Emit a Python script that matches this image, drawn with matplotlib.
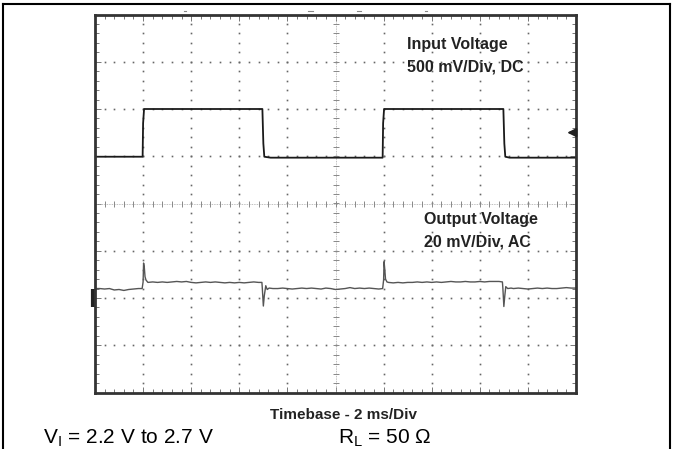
import numpy as np
import matplotlib
matplotlib.use("Agg")
import matplotlib.pyplot as plt
from matplotlib.ticker import MultipleLocator
from matplotlib.lines import Line2D

plt.rcParams['font.family'] = ['Liberation Sans', 'DejaVu Sans']
plt.rcParams['mathtext.default'] = 'regular'

# 输入电压 (时间: 格, 电平: 距中心的格数)
t_in = [0, 0.99, 1.0, 1.02, 3.48, 3.50, 3.52, 3.65, 5.98, 5.99, 6.01, 8.49, 8.51, 8.53, 8.62, 10]
v_in = [0.99, 0.99, 1.70, 2.0, 2.0, 1.27, 0.99, 0.97, 0.97, 1.70, 2.0, 2.0, 1.27, 0.99, 0.97, 0.97]

# 输出电压 (AC 耦合)
t_out = [0, 0.1, 0.2, 0.3, 0.4, 0.5, 0.6, 0.7, 0.8, 0.9, 0.98,
         1.0, 1.01, 1.025, 1.04, 1.06, 1.1,
         1.2, 1.3, 1.4, 1.5, 1.6, 1.7, 1.8, 1.9, 2.0, 2.1, 2.2, 2.3, 2.4, 2.5,
         2.6, 2.7, 2.8, 2.9, 3.0, 3.1, 3.2, 3.3, 3.4, 3.47,
         3.48, 3.50, 3.52, 3.55, 3.58, 3.62, 3.7,
         3.8, 3.9, 4.0, 4.1, 4.2, 4.3, 4.4, 4.5, 4.6, 4.7, 4.8, 4.9, 5.0, 5.1,
         5.2, 5.3, 5.4, 5.5, 5.6, 5.7, 5.8, 5.9, 5.98,
         6.0, 6.01, 6.025, 6.04, 6.07, 6.1,
         6.2, 6.3, 6.4, 6.5, 6.6, 6.7, 6.8, 6.9, 7.0, 7.1, 7.2, 7.3, 7.4, 7.5,
         7.6, 7.7, 7.8, 7.9, 8.0, 8.1, 8.2, 8.3, 8.4, 8.47,
         8.48, 8.50, 8.52, 8.54, 8.58, 8.65,
         8.7, 8.8, 8.9, 9.0, 9.1, 9.2, 9.3, 9.4, 9.5, 9.6, 9.7, 9.8, 9.9, 10.0]
v_out = [-1.80, -1.80, -1.81, -1.80, -1.83, -1.82, -1.84, -1.82, -1.81, -1.80, -1.80,
         -1.66, -1.26, -1.35, -1.55, -1.62, -1.67,
         -1.66, -1.67, -1.66, -1.67, -1.66, -1.65, -1.66, -1.65, -1.67, -1.68, -1.67, -1.66, -1.67, -1.66,
         -1.67, -1.68, -1.67, -1.68, -1.67, -1.68, -1.67, -1.66, -1.67, -1.67,
         -1.82, -2.17, -1.95, -1.74, -1.82, -1.79, -1.80,
         -1.80, -1.79, -1.80, -1.81, -1.80, -1.79, -1.80, -1.79, -1.80, -1.81, -1.79, -1.80, -1.82, -1.81,
         -1.80, -1.78, -1.80, -1.79, -1.80, -1.79, -1.80, -1.81, -1.80,
         -1.62, -1.23, -1.40, -1.60, -1.66, -1.67,
         -1.68, -1.67, -1.68, -1.67, -1.67, -1.66, -1.67, -1.66, -1.67, -1.66, -1.67, -1.66, -1.65, -1.66,
         -1.66, -1.65, -1.66, -1.66, -1.65, -1.66, -1.65, -1.65, -1.65, -1.66,
         -1.80, -2.18, -1.95, -1.76, -1.80, -1.79,
         -1.80, -1.79, -1.80, -1.81, -1.80, -1.79, -1.80, -1.79, -1.80, -1.80, -1.79, -1.78, -1.79, -1.79]

fig = plt.figure(figsize=(6.73, 4.49), dpi=100)
ax = fig.add_axes([95 / 673, 1 - 392.5 / 449, 481 / 673, 378 / 449])
ax.set_xlim(0, 10)
ax.set_ylim(-4, 4)

# 网格点
steps_y = np.arange(-4, 4.001, 0.2)
steps_x = np.arange(0, 10.001, 0.2)
for gx in range(1, 10):
    if gx == 5:
        continue
    ax.plot([gx] * len(steps_y), steps_y, ls='none', marker='s', ms=1.2, mew=0, color='#666666')
for gy in range(-3, 4):
    if gy == 0:
        continue
    ax.plot(steps_x, [gy] * len(steps_x), ls='none', marker='s', ms=1.2, mew=0, color='#666666')

# 中心十字线
ax.axvline(5, color='#aaaaaa', lw=0.6, ls=(0, (1, 1)))
ax.axhline(0, color='#aaaaaa', lw=0.6, ls=(0, (1, 1)))
ax.plot([5] * len(steps_y), steps_y, ls='none', marker='_', ms=5, mew=0.7, color='#888888')
ax.plot(steps_x, [0] * len(steps_x), ls='none', marker='|', ms=5, mew=0.7, color='#888888')

# 边框刻度
ax.xaxis.set_major_locator(MultipleLocator(1))
ax.yaxis.set_major_locator(MultipleLocator(1))
ax.xaxis.set_minor_locator(MultipleLocator(0.2))
ax.yaxis.set_minor_locator(MultipleLocator(0.2))
ax.tick_params(which='both', direction='in', top=True, right=True,
               labelbottom=False, labelleft=False, color='#777777', width=0.7)
ax.tick_params(which='major', length=4)
ax.tick_params(which='minor', length=3)
for s in ax.spines.values():
    s.set_linewidth(2)
    s.set_color('#333333')

# 波形
ax.plot(t_in, v_in, color='#1a1a1a', lw=1.3)
ax.plot(t_out, v_out, color='#555555', lw=1.0)

# 通道标记
ax.plot([-0.05], [-2.0], marker='|', ms=13, mew=3, color='#222222', clip_on=False)
ax.annotate('', xy=(9.76, 1.5), xytext=(10.0, 1.5),
            arrowprops=dict(arrowstyle='-|>', color='#222222', lw=1.3, mutation_scale=13))

# 文字
W, H = 673, 449
bold = dict(fontsize=11.5, fontweight='bold', color='#222222', va='center')
fig.text(407 / W, 1 - 45 / H, 'Input Voltage', **bold)
fig.text(407 / W, 1 - 67 / H, '500 mV/Div, DC', **bold)
fig.text(424 / W, 1 - 220 / H, 'Output Voltage', **bold)
fig.text(424 / W, 1 - 242 / H, '20 mV/Div, AC', **bold)
fig.text(343 / W, 1 - 415 / H, 'Timebase - 2 ms/Div', fontsize=11, fontweight='bold', color='#222222',
         ha='center', va='center')
fig.text(43 / W, 1 - 438 / H, r'V$_{I}$ = 2.2 V to 2.7 V', fontsize=15, color='black', va='center')
fig.text(338 / W, 1 - 438 / H, r'R$_{L}$ = 50 Ω', fontsize=15, color='black', va='center')

# 外框
fig.add_artist(Line2D([2.5 / W, 2.5 / W], [0, 1 - 3.5 / H], color='black', lw=1.5))
fig.add_artist(Line2D([669.5 / W, 669.5 / W], [0, 1 - 3.5 / H], color='black', lw=1.5))
fig.add_artist(Line2D([2.5 / W, 669.5 / W], [1 - 3.5 / H, 1 - 3.5 / H], color='black', lw=1.5))

# 顶部残留小标记
for mx, mw in [(185, 2), (310, 5), (359, 4), (426, 2)]:
    fig.add_artist(Line2D([(mx - mw / 2) / W, (mx + mw / 2) / W], [1 - 11 / H, 1 - 11 / H],
                          color='#888888', lw=0.8))

fig.savefig('out.png', dpi=100)
